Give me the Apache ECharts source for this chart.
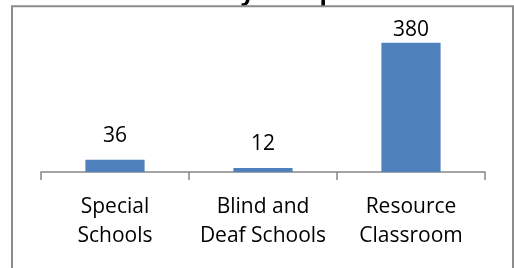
<!DOCTYPE html>
<html>
<head>
<meta charset="utf-8">
<script src="https://cdn.jsdelivr.net/npm/echarts@6/dist/echarts.min.js"></script>
<style>
  html, body { margin: 0; padding: 0; background: #fff; }
  #main { width: 514px; height: 268px; }
</style>
</head>
<body>
<div id="main"></div>
<script>
// chart data
var categories = ['Special\nSchools', 'Blind and\nDeaf Schools', 'Resource\nClassroom'];
var values = [36, 12, 380];
var valueMax = 400;
var chartTitle = 'Enrolment by Group';

var myChart;
window.onload = function () {
    myChart = echarts.init(document.getElementById('main'));
    var font = "'Open Sans', 'Noto Sans', sans-serif";
    // labels near the top are pulled down to stay inside the plot (like Excel)
    var barData = values.map(function (v) {
        return { value: v, label: { distance: v > valueMax * 0.8 ? 2 : 13 } };
    });
    var option = {
        animation: false,
        title: {
            text: chartTitle,
            left: 88,
            top: -24,
            textStyle: { fontFamily: font, fontSize: 24, fontWeight: 'bold', color: '#000' }
        },
        grid: { left: 41, right: 29, top: 36, bottom: 96 },
        xAxis: {
            type: 'category',
            data: categories,
            axisLine: { lineStyle: { color: '#868686', width: 1.5 } },
            axisTick: { show: true, length: 8, lineStyle: { color: '#868686', width: 1.5 } },
            axisLabel: {
                interval: 0,
                margin: 21,
                fontFamily: font,
                fontSize: 21,
                lineHeight: 29,
                color: '#000'
            }
        },
        yAxis: {
            type: 'value',
            min: 0,
            max: valueMax,
            show: false
        },
        series: [{
            type: 'bar',
            data: barData,
            barWidth: '40%',
            itemStyle: { color: '#4f81bd' },
            label: {
                show: true,
                position: 'top',
                fontFamily: font,
                fontSize: 21,
                color: '#000'
            }
        }],
        graphic: [{
            type: 'rect',
            shape: { x: 12, y: 6.3, width: 501, height: 300 },
            style: { fill: null, stroke: '#8c8c8c', lineWidth: 2 },
            z: 100
        }]
    };
    myChart.setOption(option);
};
</script>
</body>
</html>
